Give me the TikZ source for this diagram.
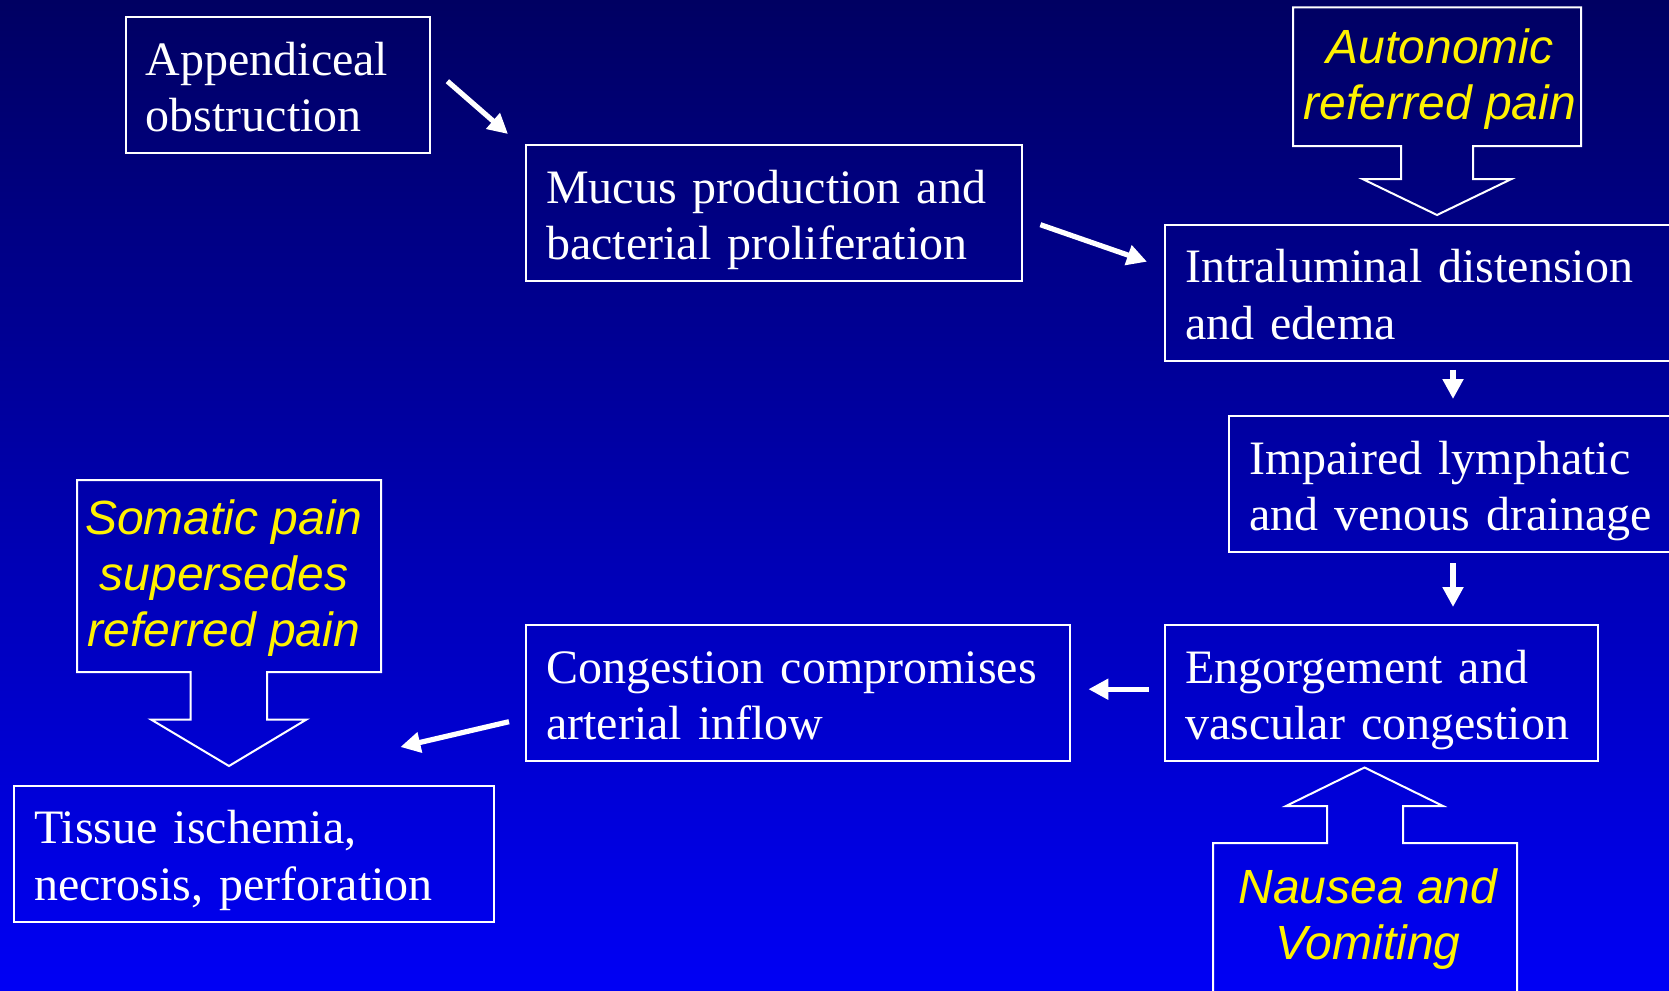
\documentclass[tikz,border=0pt]{standalone}
\usepackage{fontspec}
\setmainfont{Liberation Serif}
\newfontfamily\painfont{Liberation Sans}
\usepackage{tikz}
\usetikzlibrary{arrows.meta,calc}
\newcommand\stepfont{\fontsize{24}{28.2}\selectfont\fontdimen2\font=4.4pt\relax}

\begin{document}
\begin{tikzpicture}[x=0.5pt,y=-0.5pt,
    box/.style={draw=white,line width=1.2pt,text=white,font=\stepfont,align=left,inner xsep=10pt,inner ysep=0pt,text height=20pt,text depth=30pt,minimum height=68pt,anchor=north west},
    pain/.style={text=yellow,font=\painfont\itshape\fontsize{24}{28.2}\selectfont,align=center,inner sep=0pt},
    outline/.style={draw=white,line width=1pt,line join=miter},
    flow/.style={white,line width=2.6pt,-{Triangle[length=10pt,width=10pt]}}]
    \useasboundingbox(0,0)rectangle(1669,990);
    \shade[top color={rgb,255:red,0;green,0;blue,98},bottom color={rgb,255:red,0;green,0;blue,245}](0,0)rectangle(1669,990);
    \clip(0,0)rectangle(1669,990);

    \node[box,text width=132.25pt](app)at(124.5,16){Appendiceal\\obstruction};
    \node[box,text width=228pt](mucus)at(525,144){Mucus production and\\bacterial proliferation};
    \node[box,text width=243pt](intra)at(1164,223.5){Intraluminal distension\\and edema};
    \node[box,text width=211pt](lymph)at(1228,415){Impaired lymphatic\\and venous drainage};
    \node[box,text width=196.5pt](engorge)at(1164,624){Engorgement and\\vascular congestion};
    \node[box,text width=252pt](congest)at(525,624){Congestion compromises\\arterial inflow};
    \node[box,text width=220pt](tissue)at(13,784.5){Tissue ischemia,\\necrosis, perforation};

    \node[pain](auto)at(1440,79){Autonomic\\referred pain};
    \node[pain](somatic)at(224,578){Somatic pain\\supersedes\\referred pain};
    \node[pain](nausea)at(1368,919){Nausea and\\Vomiting};
    \draw[outline](1293,7.5)--(1581,7.5)--(1581,146)--(1473,146)--(1473,179)--(1511.5,179)--(1437,215)--(1362.5,179)--(1401,179)--(1401,146)--(1293,146)--cycle;
    \draw[outline](77,480)--(381,480)--(381,672)--(267,672)--(267,719.5)--(306.5,719.5)--(229,766)--(151,719.5)--(190.5,719.5)--(190.5,672)--(77,672)--cycle;
    \draw[outline](1213,1000)--(1213,843)--(1327,843)--(1327,806)--(1286,806)--(1364.5,767.5)--(1443,806)--(1403,806)--(1403,843)--(1517,843)--(1517,1000);

    \draw[flow]($(app.east)+(16,-4)$)--($(mucus.north west)+(-17,-10)$);
    \draw[flow]($(mucus.east)+(17,11.5)$)--($(intra.west)+(-17,-31)$);
    \draw[flow]($(intra.south west)+(289,8)$)--($(lymph.north west)+(225,-16)$);
    \draw[flow]($(lymph.south west)+(225,10)$)--($(engorge.north west)+(289,-17)$);
    \draw[flow]($(engorge.west)+(-15.5,-4)$)--($(congest.east)+(17,-4)$);
    \draw[flow]($(congest.west)+(-16,28.5)$)--($(tissue.north east)+(-95,-37.5)$);
\end{tikzpicture}
\end{document}
